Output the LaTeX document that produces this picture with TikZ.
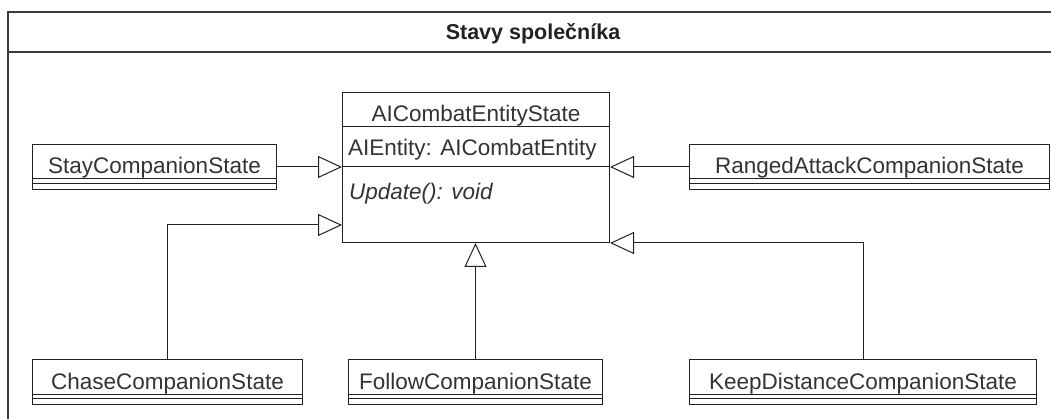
\documentclass[tikz,border=0pt]{standalone}
\usepackage{fontspec}
\setmainfont{Liberation Sans}
\usetikzlibrary{arrows.meta,calc}
\definecolor{ink}{HTML}{222222}
\definecolor{textink}{HTML}{333333}
\definecolor{frameline}{HTML}{3A3A3A}
\tikzset{
  classbox/.style={draw=ink, line width=1pt, rectangle, inner sep=0pt, anchor=north west, fill=white},
  classtext/.style={inner sep=0pt, anchor=base, text=textink, font=\fontsize{22.5}{26}\selectfont},
  membertext/.style={inner sep=0pt, anchor=base west, text=textink, font=\fontsize{22.5}{26}\selectfont},
  compart/.style={draw=ink, line width=1pt},
  inherit/.style={draw=ink, line width=1pt, -{Triangle[open, length=24pt, width=22pt, fill=white]}},
}
\begin{document}
\begin{tikzpicture}[x=1pt, y=-1pt]
  \useasboundingbox (0,0) rectangle (1051,419);

  % package frame with title bar
  \draw[frameline, line width=1.4pt] (1060,12) -- (8,12) -- (8,430);
  \draw[frameline, line width=1.4pt] (8,52) -- (1060,52);
  \node[inner sep=0pt, anchor=base, text=ink, font=\bfseries\fontsize{21.5}{26}\selectfont] (title) at (533,40) {Stavy společníka};

  % abstract base class (y grows downwards here)
  \node[classbox, minimum width=267pt, minimum height=150pt] (base) at (342,92) {};
  \draw[compart] ($(base.north west)+(0,35)$) -- ($(base.north east)+(0,35)$);
  \draw[compart] ($(base.north west)+(0,75)$) -- ($(base.north east)+(0,75)$);
  \node[classtext] (basename) at ($(base.north)+(0,30)$) {AICombatEntityState};
  \node[membertext] (baseattr) at ($(base.north west)+(6,64)$) {AIEntity: AICombatEntity};
  \node[membertext, font=\itshape\fontsize{22.5}{26}\selectfont] (baseop) at ($(base.north west)+(7,108)$) {Update(): void};

  % concrete states: box, name, empty attribute and operation compartments
  \foreach \n/\x/\y/\w/\t in {
      stay/32/144/244/StayCompanionState,
      ranged/689/144/360/RangedAttackCompanionState,
      chase/32/359/270/ChaseCompanionState,
      follow/348/359/254/FollowCompanionState,
      keep/689/359/347/KeepDistanceCompanionState} {
    \node[classbox, minimum width=\w pt, minimum height=45pt] (\n) at (\x,\y) {};
    \draw[compart] ($(\n.north west)+(0,35)$) -- ($(\n.north east)+(0,35)$);
    \draw[compart] ($(\n.north west)+(0,39.5)$) -- ($(\n.north east)+(0,39.5)$);
    \node[classtext] (\n-name) at ($(\n.north)+(0,30)$) {\t};
  }

  % generalisation connectors
  \coordinate (chasein) at ($(base.north west)+(0,133)$);
  \draw[inherit] (stay.east |- 0,167) -- (base.west |- 0,167);
  \draw[inherit] (ranged.west |- 0,167) -- (base.east |- 0,167);
  \draw[inherit] (chase.north) |- (chasein);
  \draw[inherit] (follow.north) -- (follow.north |- base.south);
  \draw[inherit] (keep.north) |- (base.south east);
\end{tikzpicture}
\end{document}
